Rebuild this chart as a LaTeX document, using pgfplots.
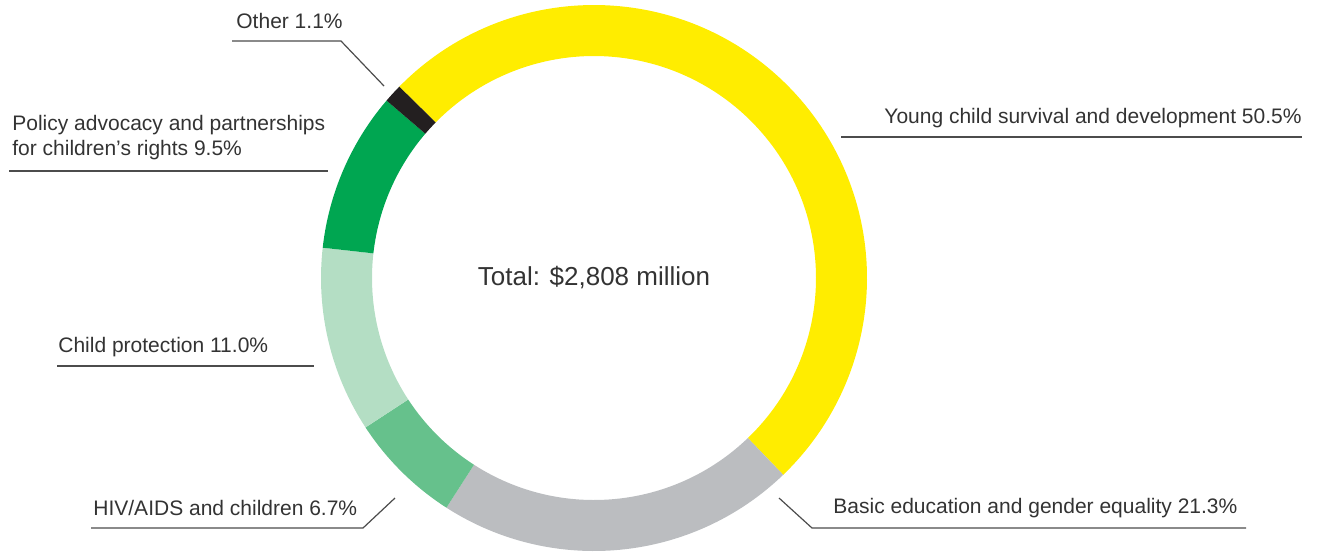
\documentclass[border=0pt]{standalone}
\usepackage{pgfplots}
\usepackage{pgfplotstable}
\pgfplotsset{compat=1.18}
\usepackage{fontspec}
\setmainfont{Liberation Sans}

\definecolor{cyell}{HTML}{FFED00}
\definecolor{cgray}{HTML}{BBBDC0}
\definecolor{cmid}{HTML}{66C18C}
\definecolor{clight}{HTML}{B4DEC4}
\definecolor{cgreen}{HTML}{00A651}
\definecolor{cblack}{HTML}{231F20}
\definecolor{txt}{HTML}{333333}

% shares in %, clockwise from the top left
\pgfplotstableread{
share color
50.5 cyell
21.3 cgray
6.7 cmid
11.0 clight
9.5 cgreen
1.1 cblack
}\ringdata

\tikzset{
  leader/.style={draw=black!70, line width=0.6pt, mark=none},
  lab/.style={text=txt, inner sep=0pt, font=\fontsize{10.5}{12.5}\selectfont},
}

\begin{document}
\begin{tikzpicture}
\begin{axis}[
  x=0.5pt, y=0.5pt,
  xmin=0, xmax=1322, ymin=0, ymax=554,
  y dir=reverse,
  hide axis, clip=false,
]
\addplot[draw=none] coordinates {(0,0) (1322,554)};

% ring (overlay: arc control points would widen the bounding box)
\pgfplotstablegetrowsof{\ringdata}
\pgfmathtruncatemacro\nrows{\pgfplotsretval-1}
\def\angA{135.5}
\pgfplotsforeachungrouped \i in {0,...,\nrows}{
  \pgfplotstablegetelem{\i}{share}\of\ringdata \let\sh=\pgfplotsretval
  \pgfplotstablegetelem{\i}{color}\of\ringdata \let\col=\pgfplotsretval
  \pgfmathsetmacro\angB{\angA-\sh/100.1*360}
  \edef\temp{\noexpand\fill[\col, overlay] (axis cs:594,278) ++(\angA:136.5pt)
    arc[start angle=\angA, end angle=\angB, radius=136.5pt]
    -- ++(\angB+180:25.5pt)
    arc[start angle=\angB, end angle=\angA, radius=111pt] -- cycle;}
  \temp
  \global\let\angA\angB
}

% leader lines
\addplot[leader] coordinates {(232,41) (341,41) (384,86)};
\addplot[leader] coordinates {(9,171) (328,171)};
\addplot[leader] coordinates {(841,137) (1302,137)};
\addplot[leader] coordinates {(57,366) (314,366)};
\addplot[leader] coordinates {(91,528) (363,528) (395,498)};
\addplot[leader] coordinates {(779,498) (812,528) (1246,528)};

% labels
\node[lab, anchor=base west] at (axis cs:236,28) {Other 1.1\%};
\node[lab, anchor=base west] at (axis cs:12,130) {Policy advocacy and partnerships};
\node[lab, anchor=base west] at (axis cs:12,155) {for children’s rights 9.5\%};
\node[lab, anchor=base east] at (axis cs:1302,123) {Young child survival and development 50.5\%};
\node[lab, anchor=base west] at (axis cs:58,352) {Child protection 11.0\%};
\node[lab, anchor=base west] at (axis cs:93,515) {HIV/AIDS and children 6.7\%};
\node[lab, anchor=base west] at (axis cs:833,513) {Basic education and gender equality 21.3\%};
\node[lab, anchor=base, font=\fontsize{13}{15}\selectfont] at (axis cs:594,285) {Total: \$2,808 million};
\end{axis}
\end{tikzpicture}
\end{document}
